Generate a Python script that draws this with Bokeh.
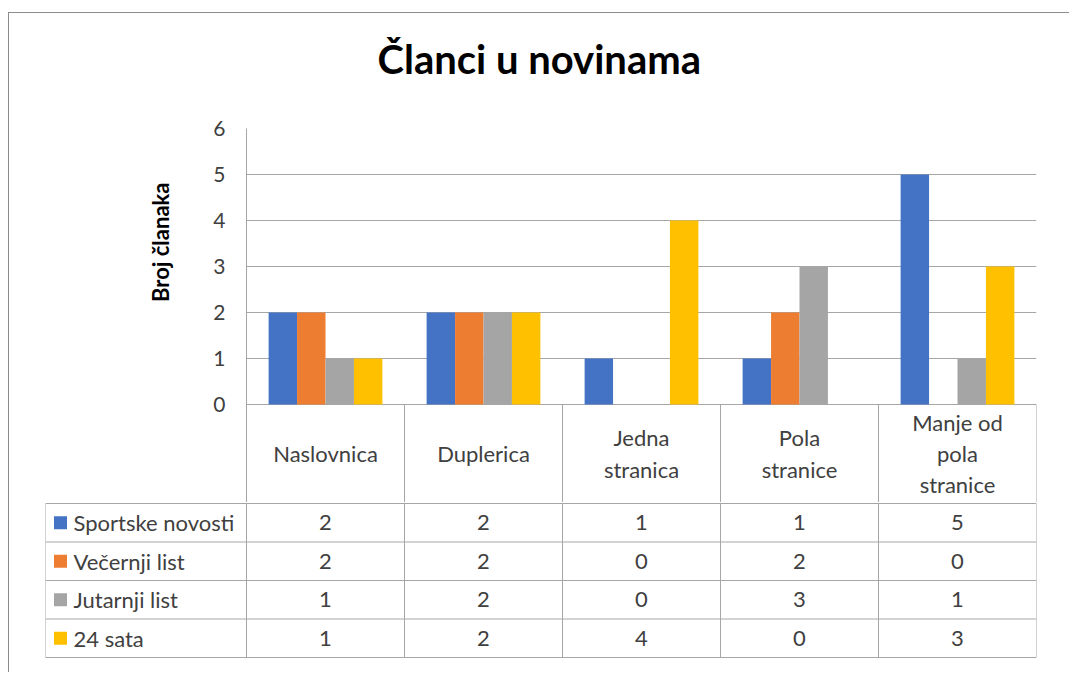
from bokeh.plotting import figure
from bokeh.models import ColumnDataSource, FactorRange, Range1d, FixedTicker, Title
from bokeh.transform import dodge
from bokeh.layouts import column
from bokeh.embed import file_html
from bokeh.resources import INLINE
from bokeh.core.properties import value

# ---------------- data ----------------
title_text = "Članci u novinama"
y_label = "Broj članaka"
categories = ["Naslovnica", "Duplerica", "Jedna stranica", "Pola stranice", "Manje od pola stranice"]
header_labels = ["Naslovnica", "Duplerica", "Jedna\nstranica", "Pola\nstranice", "Manje od\npola\nstranice"]
series_names = ["Sportske novosti", "Večernji list", "Jutarnji list", "24 sata"]
sportske_novosti = [2, 2, 1, 1, 5]
vecernji_list = [2, 2, 0, 2, 0]
jutarnji_list = [1, 2, 0, 3, 1]
sata_24 = [1, 2, 4, 0, 3]
y_ticks = [0, 1, 2, 3, 4, 5, 6]

# ---------------- styles ----------------
FONT = "Lato"
colors = ["#4472C4", "#ED7D31", "#A5A5A5", "#FFC000"]
GRID = "#a6a6a6"
TXT = "#404040"
W = 1050
series = [sportske_novosti, vecernji_list, jutarnji_list, sata_24]
keys = ["s0", "s1", "s2", "s3"]
PX = 46.0                      # px per y unit in chart
header_h = 98.0 / PX           # header row height in y units
n = len(categories)

# ---------------- chart (+ header row of the table) ----------------
p1 = figure(x_range=FactorRange(*categories), y_range=Range1d(-header_h, 6),
            width=W, height=489, output_backend="svg", toolbar_location=None,
            x_axis_location=None, min_border_left=237, min_border_right=23,
            min_border_top=115, min_border_bottom=0)
p1.frame_align = False
p1.outline_line_color = None
p1.xgrid.visible = False
p1.ygrid.ticker = FixedTicker(ticks=y_ticks)
p1.ygrid.grid_line_color = GRID
p1.yaxis.ticker = FixedTicker(ticks=y_ticks)
p1.yaxis.axis_line_color = GRID
p1.yaxis.major_tick_line_color = None
p1.yaxis.minor_tick_line_color = None
p1.yaxis.major_label_text_font = FONT
p1.yaxis.major_label_text_font_size = "21px"
p1.yaxis.major_label_text_color = TXT
p1.yaxis.major_label_standoff = 15

# titles: spacer nearest to the frame, then the chart title
p1.add_layout(Title(text=" ", text_font_size="10px", standoff=28), "above")
p1.add_layout(Title(text=title_text, align="left", offset=131, text_font=FONT,
                    text_font_size="40px", text_font_style="bold",
                    text_color="#000000", standoff=10), "above")
p1.add_layout(Title(text=y_label, align="right", offset=54, text_font=FONT,
                    text_font_size="22px", text_font_style="bold",
                    text_color="#000000", standoff=74), "left")

data = dict(cat=categories)
for k, s in zip(keys, series):
    data[k] = s
src = ColumnDataSource(data)
offsets = [-0.27, -0.09, 0.09, 0.27]
for k, c, off in zip(keys, colors, offsets):
    p1.vbar(x=dodge("cat", off, range=p1.x_range), top=k, width=0.18, source=src,
            fill_color=c, line_color=None)

# header column separators (synthetic categorical coordinates 0..n)
hx = list(range(n + 1))
p1.segment(x0=hx, y0=[0] * (n + 1), x1=hx, y1=[-header_h] * (n + 1),
           line_color=GRID, line_width=1)
p1.text(x=categories, y=[-header_h / 2] * n, text=header_labels,
        text_font=value(FONT), text_font_size="22px", text_color=TXT,
        text_align="center", text_baseline="middle", text_line_height=1.15)

# ---------------- data rows of the table ----------------
CW = 158.0                    # px per category column
leg_w = 201.0 / CW            # legend column width in category units
left = -0.5 - leg_w
row_h = 38.5

p2 = figure(x_range=Range1d(left, n - 0.5), y_range=Range1d(156, -1),
            width=W, height=161, output_backend="svg", toolbar_location=None,
            x_axis_location=None, y_axis_location=None,
            min_border_left=36, min_border_right=23, min_border_top=0, min_border_bottom=4)
p2.frame_align = False
p2.outline_line_color = None
p2.grid.visible = False

row_edges = [row_h * i for i in range(len(series) + 1)]
col_edges = [left] + [-0.5 + i for i in range(n + 1)]
x0, y0, x1, y1 = [], [], [], []
for r in row_edges:
    x0.append(left); x1.append(n - 0.5); y0.append(r); y1.append(r)
for c in col_edges:
    x0.append(c); x1.append(c); y0.append(0); y1.append(row_edges[-1])
p2.segment(x0=x0, y0=y0, x1=x1, y1=y1, line_color=GRID, line_width=1)

vx, vy, vt = [], [], []
for j, s in enumerate(series):
    for i, v in enumerate(s):
        vx.append(i); vy.append(row_h * (j + 0.5)); vt.append(str(v))
p2.text(x=vx, y=vy, text=vt, text_font=value(FONT), text_font_size="22px",
        text_color=TXT, text_align="center", text_baseline="middle")

ly = [row_h * (j + 0.5) for j in range(len(series))]
p2.scatter(x=[left + 15 / CW] * len(series), y=ly, marker="square", size=13,
           fill_color=colors, line_color=None)
p2.text(x=[left + 28 / CW] * len(series), y=ly, text=series_names,
        text_font=value(FONT), text_font_size="22px", text_color=TXT,
        text_align="left", text_baseline="middle")

layout = column(p1, p2, styles={"border-top": "1px solid #8c8c8c",
                                 "border-left": "1px solid #8c8c8c",
                                 "margin-top": "12px", "margin-left": "8px",
                                 "padding-right": "10px", "padding-bottom": "9px"})

open("out.html", "w").write(file_html(layout, INLINE))
